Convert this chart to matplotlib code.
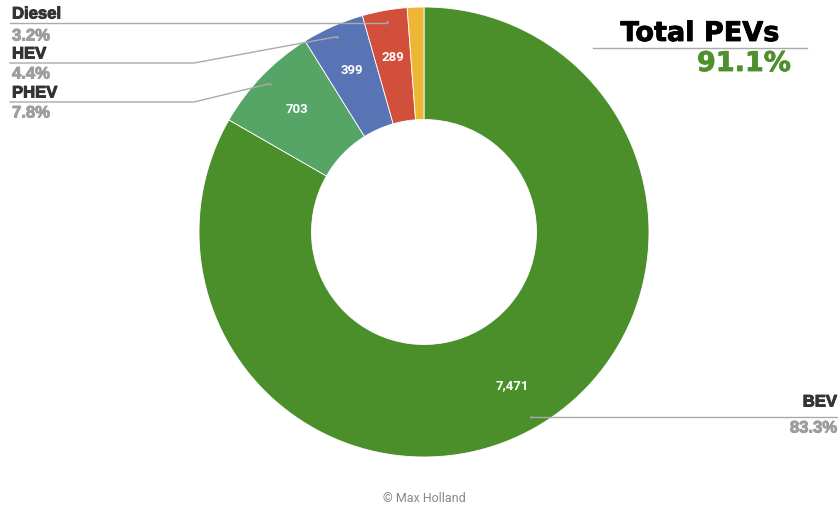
import numpy as np
import matplotlib
matplotlib.use("Agg")
import matplotlib.pyplot as plt
import matplotlib.patheffects as pe

# Vehicle registrations by powertrain
categories = ["BEV", "PHEV", "HEV", "Diesel", "Petrol"]
counts = [7471, 703, 399, 289, 107]
value_labels = ["7,471", "703", "399", "289", ""]
share_labels = ["83.3%", "7.8%", "4.4%", "3.2%", ""]
colors = ["#4b8f2a", "#57a566", "#5874b5", "#d24f3c", "#efb535"]
headline_title = "Total PEVs"
headline_value = "91.1%"
credit = "© Max Holland"

W, H = 840, 509
fig = plt.figure(figsize=(W / 100, H / 100), dpi=100)
ax = fig.add_axes([0, 0, 1, 1])


def Y(y_img):
    return H - y_img


def heavy(color, w):
    return [pe.withStroke(linewidth=w, foreground=color)]


cx, cy, R = 424, Y(232), 225
wedges, _ = ax.pie(counts, colors=colors, startangle=90, counterclock=False,
                   center=(cx, cy), radius=R,
                   wedgeprops=dict(width=R * 0.5, edgecolor="white", linewidth=0.6))
ax.set_xlim(0, W)
ax.set_ylim(0, H)
ax.set_aspect("equal")
ax.axis("off")

fr = np.array(counts, dtype=float) / sum(counts)
cum = np.concatenate([[0], np.cumsum(fr)[:-1]])
mid = np.deg2rad(90 - 360 * (cum + fr / 2))


def at(r, a):
    return cx + r * np.cos(a), cy + r * np.sin(a)


# value labels inside the ring
for lab, a in zip(value_labels, mid):
    if lab:
        x, y = at(R * 0.787, a)
        ax.text(x, y, lab, color="white", fontsize=9.5, fontweight="bold",
                family="Roboto", ha="center", va="center")

line_c = "#aaaaaa"
name_c = "#333333"
pct_c = "#9e9e9e"
lab_fs = 12

# left-side labels: (index, line y, name y, pct y)
left = [(3, 23, 14, 36), (2, 63, 54, 74), (1, 102, 93, 113)]
for i, ly, ny, py in left:
    dx, dy = at(R * 0.95, mid[i])
    bend = dx if i == 3 else 194
    ax.plot([10, bend, dx], [Y(ly), Y(ly), dy], color=line_c, lw=1)
    ax.plot(dx, dy, "o", ms=2, color="#9aa0a0", mec="none")
    ax.text(12, Y(ny), categories[i], color=name_c, fontsize=lab_fs,
            fontweight="bold", family="Liberation Sans", ha="left", va="center",
            path_effects=heavy(name_c, 0.7))
    ax.text(12, Y(py), share_labels[i], color=pct_c, fontsize=lab_fs,
            fontweight="bold", family="Liberation Sans", ha="left", va="center",
            path_effects=heavy(pct_c, 0.7))

# BEV label on the right
bx, by = at(R * 0.95, mid[0])
ax.plot([bx, 837], [by, by], color=line_c, lw=1)
ax.plot(bx, by, "o", ms=2, color="#9aa0a0", mec="none")
ax.text(837, Y(402), categories[0], color=name_c, fontsize=lab_fs,
        fontweight="bold", family="Liberation Sans", ha="right", va="center",
        path_effects=heavy(name_c, 0.7))
ax.text(837, Y(428), share_labels[0], color=pct_c, fontsize=lab_fs,
        fontweight="bold", family="Liberation Sans", ha="right", va="center",
        path_effects=heavy(pct_c, 0.7))

# headline
ax.text(700, Y(34), headline_title, color="black", fontsize=19.5,
        fontweight="bold", family="DejaVu Sans", ha="center", va="center",
        path_effects=heavy("black", 0.6))
ax.plot([593, 807], [Y(48), Y(48)], color="#aaaaaa", lw=1)
ax.text(744, Y(64), headline_value, color="#4f8f2e", fontsize=19.5,
        fontweight="bold", family="DejaVu Sans", ha="center", va="center",
        path_effects=heavy("#4f8f2e", 0.6))

ax.text(424, Y(499), credit, color="#888888", fontsize=9, family="Roboto",
        ha="center", va="center")

fig.savefig("out.png", dpi=100)
